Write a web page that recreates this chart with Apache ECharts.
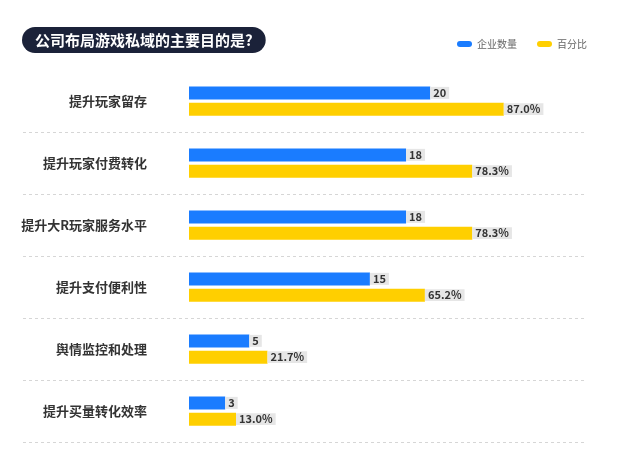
<!DOCTYPE html>
<html><head><meta charset="utf-8">
<script src="https://cdn.jsdelivr.net/npm/echarts@6/dist/echarts.min.js"></script>
<style>html,body{margin:0;padding:0;background:#fff}#c{width:630px;height:451px}</style>
</head><body><div id="c"></div>
<script>
const categories = ['提升玩家留存','提升玩家付费转化','提升大R玩家服务水平','提升支付便利性','舆情监控和处理','提升买量转化效率'];
const companyCounts = [20, 18, 18, 15, 5, 3];
const percentages = [87.0, 78.3, 78.3, 65.2, 21.7, 13.0];
const titleText = '公司布局游戏私域的主要目的是?';
const seriesNames = ['企业数量', '百分比'];

const FONT = '"Noto Sans CJK SC", "Noto Sans", sans-serif';
const pill = 'path://M3,0 L12,0 A3,3 0 0 1 12,6 L3,6 A3,3 0 0 1 3,0 Z';
const chart = echarts.init(document.getElementById('c'));
const dash = { color: '#d6d6d6', type: [3, 3], width: 1 };
const labelCommon = {
  show: true, position: 'right', distance: 0,
  backgroundColor: '#e6e6e6', padding: [1, 3, 0, 3],
  color: '#333', fontSize: 11, fontWeight: 'bold', fontFamily: FONT
};
const hiddenAxisParts = { axisLine: { show: false }, axisTick: { show: false }, axisLabel: { show: false } };
chart.setOption({
  animation: false,
  textStyle: { fontFamily: FONT },
  title: {
    text: titleText, left: 22, top: 27,
    backgroundColor: '#1b2239', borderRadius: 13, padding: [5, 13, 5, 13],
    textStyle: { color: '#fff', fontSize: 15, fontWeight: 'bold', fontFamily: FONT, lineHeight: 16 }
  },
  legend: {
    left: 452, top: 34, itemWidth: 15, itemHeight: 6, itemGap: 20,
    icon: pill,
    textStyle: { color: '#666', fontSize: 10, fontFamily: FONT },
    data: seriesNames
  },
  grid: [
    { left: 189, right: 43, top: 70, bottom: 9 },
    { left: 23, right: 43, top: 132, bottom: 9 }
  ],
  xAxis: [
    { type: 'value', gridIndex: 0, min: 0, max: 33, show: false },
    { type: 'value', gridIndex: 0, min: 0, max: 110, show: false },
    { type: 'value', gridIndex: 1, min: 0, max: 1, show: false }
  ],
  yAxis: [
    {
      type: 'category', gridIndex: 0, data: categories, inverse: true,
      axisLine: { show: false },
      axisTick: { show: false },
      axisLabel: { margin: 42, color: '#333', fontSize: 13, fontWeight: 'bold', fontFamily: FONT },
      splitLine: { show: false }
    },
    Object.assign({ type: 'value', gridIndex: 1, min: 0, max: 5, interval: 1,
      splitLine: { show: true, lineStyle: dash } }, hiddenAxisParts)
  ],
  series: [
    {
      name: seriesNames[0], type: 'bar', xAxisIndex: 0, yAxisIndex: 0,
      data: companyCounts, barWidth: 13, barGap: '25%',
      itemStyle: { color: '#1a7cff' },
      label: Object.assign({}, labelCommon, { formatter: p => String(p.value) })
    },
    {
      name: seriesNames[1], type: 'bar', xAxisIndex: 1, yAxisIndex: 0,
      data: percentages, barWidth: 13, barGap: '25%',
      itemStyle: { color: '#ffcf00' },
      label: Object.assign({}, labelCommon, { formatter: p => p.value.toFixed(1) + '%' })
    }
  ]
});
</script></body></html>
